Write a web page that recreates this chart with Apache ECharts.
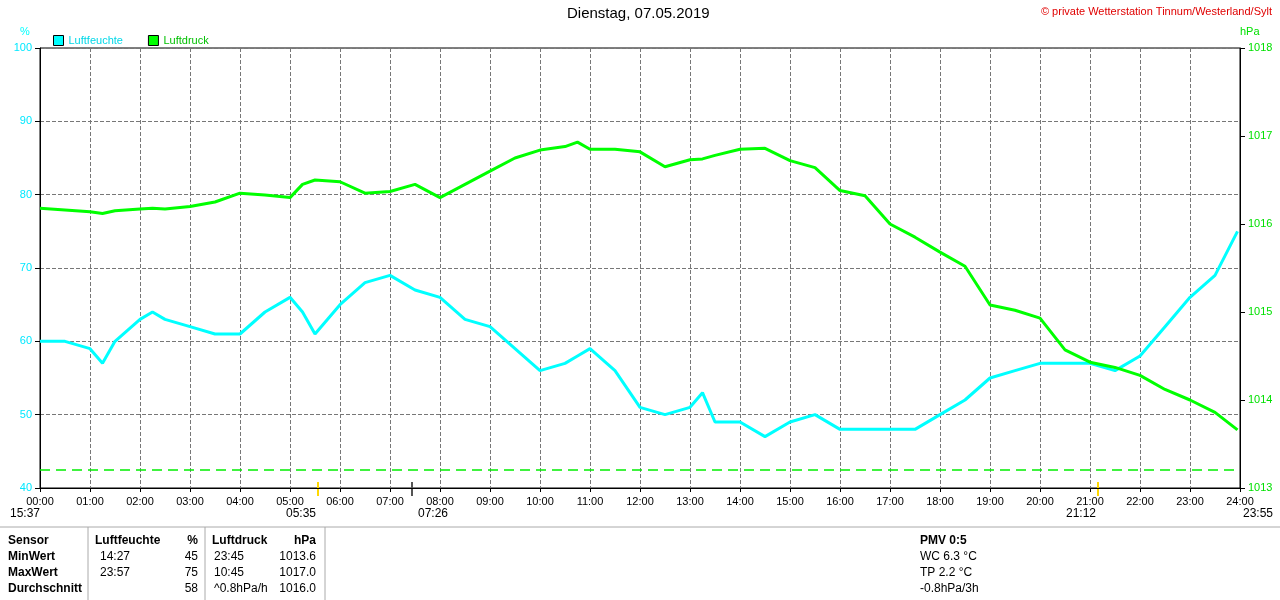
<!DOCTYPE html><html><head><meta charset="utf-8"><script src="https://cdn.jsdelivr.net/npm/echarts@6/dist/echarts.min.js"></script>
<style>body{margin:0;background:#fff}#c{width:1280px;height:600px}</style></head><body><div id="c"></div><script>
const times = ["00:00","00:30","01:00","01:15","01:30","02:00","02:15","02:30","03:00","03:30","04:00","04:30","05:00","05:15","05:30","06:00","06:30","07:00","07:30","08:00","08:30","09:00","09:30","10:00","10:30","10:45","11:00","11:30","12:00","12:30","13:00","13:15","13:30","14:00","14:30","15:00","15:30","16:00","16:30","17:00","17:30","18:00","18:30","19:00","19:30","20:00","20:30","21:00","21:30","22:00","22:30","23:00","23:30","23:57"];
const humidity = [60,60,59,57,60,63,64,63,62,61,61,64,66,64,61,65,68,69,67,66,63,62,59,56,57,58,59,56,51,50,51,53,49,49,47,49,50,48,48,48,48,50,52,55,56,57,57,57,56,58,62,66,69,75];
const pressure = [1016.18,1016.16,1016.14,1016.12,1016.15,1016.17,1016.18,1016.17,1016.2,1016.25,1016.35,1016.33,1016.3,1016.45,1016.5,1016.48,1016.35,1016.37,1016.45,1016.3,1016.45,1016.6,1016.75,1016.84,1016.88,1016.93,1016.85,1016.85,1016.82,1016.65,1016.73,1016.74,1016.78,1016.85,1016.86,1016.72,1016.64,1016.38,1016.32,1016.0,1015.85,1015.68,1015.52,1015.08,1015.02,1014.93,1014.57,1014.43,1014.37,1014.28,1014.12,1014.0,1013.86,1013.66];
const hourLabels = Array.from({length:25},(_,i)=>String(i).padStart(2,'0')+':00');
const toMin = t => {const [h,m]=t.split(':').map(Number);return h*60+m;};
const humData = times.map((t,i)=>[toMin(t),humidity[i]]);
const presData = times.map((t,i)=>[toMin(t),pressure[i]]);
const ch = echarts.init(document.getElementById('c'));
const F='Liberation Sans, Arial, sans-serif';
const txt=(x,y,s,o={})=>({type:'text',left:x,top:y,style:Object.assign({text:s,font:'12px '+F,fill:'#000'},o)});
const rowsL=[['Sensor','Luftfeuchte','%','Luftdruck','hPa'],['MinWert','14:27','45','23:45','1013.6'],['MaxWert','23:57','75','10:45','1017.0'],['Durchschnitt','','58','^0.8hPa/h','1016.0']];
const g=[];
rowsL.forEach((r,i)=>{const y=535+i*16;const b=i===0?'bold 12px '+F:'12px '+F;
 g.push(txt(8,y,r[0],{font:'bold 12px '+F}));
 g.push(txt(i===0?95:100,y,r[1],{font:b}));
 g.push({type:'text',right:1280-198,top:y,style:{text:r[2],font:b,fill:'#000',textAlign:'right'}});
 g.push(txt(i===0?212:214,y,r[3],{font:b}));
 g.push({type:'text',right:1280-316,top:y,style:{text:r[4],font:b,fill:'#000',textAlign:'right'}});
});
[['PMV 0:5',true],['WC 6.3 °C'],['TP 2.2 °C'],['-0.8hPa/3h']].forEach((r,i)=>g.push(txt(920,535+i*16,r[0],{font:(r[1]?'bold ':'')+'12px '+F})));
g.push({type:'line',shape:{x1:0,y1:527,x2:1280,y2:527},style:{stroke:'#aaa'}});
[88,205,325].forEach(x=>g.push({type:'line',shape:{x1:x,y1:527,x2:x,y2:600},style:{stroke:'#aaa'}}));
g.push(txt(10,508,'15:37'),txt(286,508,'05:35'),txt(418,508,'07:26'),txt(1066,508,'21:12'),txt(1243,508,'23:55'));
g.push(txt(567,6,'Dienstag, 07.05.2019',{font:'15px '+F}));
g.push({type:'text',right:8,top:6,style:{text:'© private Wetterstation Tinnum/Westerland/Sylt',font:'11px '+F,fill:'#e00000',textAlign:'right'}});
g.push(txt(20,26,'%',{fill:'#00ffff',font:'11px '+F}),txt(1240,26,'hPa',{fill:'#00e000',font:'11px '+F}));
[[318,'#ffd800'],[412,'#555'],[1098,'#ffd800']].forEach(([x,c])=>g.push({type:'line',shape:{x1:x,y1:482,x2:x,y2:496},style:{stroke:c,lineWidth:2}}));
ch.setOption({animation:false,
 legend:{left:48,top:30,itemWidth:10,itemHeight:10,icon:'rect',itemGap:25,textStyle:{fontFamily:F,fontSize:11,color:'#0aa'},
  data:[{name:'Luftfeuchte',textStyle:{color:'#00d8e8'},itemStyle:{borderColor:'#000',borderWidth:1}},{name:'Luftdruck',textStyle:{color:'#00c000'},itemStyle:{borderColor:'#000',borderWidth:1}}]},
 grid:{left:40,right:40,top:48,bottom:112,show:true,borderColor:'#000',backgroundColor:'#fff'},
 xAxis:{type:'value',min:0,max:1440,interval:60,axisLine:{lineStyle:{color:'#000'}},axisTick:{show:true,length:4},
  axisLabel:{fontFamily:F,fontSize:11,color:'#000',formatter:v=>hourLabels[v/60]},splitLine:{lineStyle:{type:'dashed',color:'#777'}}},
 yAxis:[{type:'value',min:40,max:100,interval:10,axisLine:{show:true,lineStyle:{color:'#000'}},axisTick:{show:true},axisLabel:{color:'#00e8ff',fontFamily:F,fontSize:11},splitLine:{lineStyle:{type:'dashed',color:'#777'}}},
  {type:'value',min:1013,max:1018,interval:1,axisLine:{show:true,lineStyle:{color:'#000'}},axisTick:{show:true},axisLabel:{color:'#00e000',fontFamily:F,fontSize:11,formatter:v=>String(v)},splitLine:{show:false}}],
 series:[{name:'Luftfeuchte',type:'line',data:humData,symbol:'none',lineStyle:{color:'#00ffff',width:3},itemStyle:{color:'#00ffff'},
   markLine:{symbol:'none',silent:true,label:{show:false},emphasis:{disabled:true},lineStyle:{color:'#00ee00',opacity:1,type:[10,6],width:1.5},data:[{yAxis:42.5,lineStyle:{color:'#00ee00'}}]}},
  {name:'Luftdruck',type:'line',yAxisIndex:1,data:presData,symbol:'none',lineStyle:{color:'#00ff00',width:3},itemStyle:{color:'#00ff00'}}],
 graphic:g});
</script></body></html>
